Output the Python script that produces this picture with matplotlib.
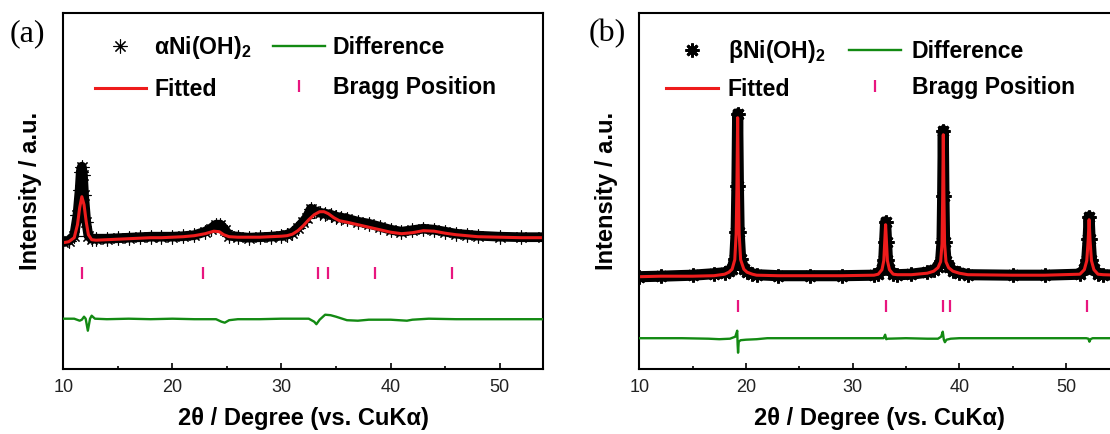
import matplotlib.pyplot as plt

plt.rcParams['font.family'] = ['Liberation Sans', 'DejaVu Sans']
plt.rcParams['mathtext.fontset'] = 'custom'
plt.rcParams['mathtext.rm'] = 'Liberation Sans:bold'
plt.rcParams['mathtext.default'] = 'rm'

# ---- (a) alpha-Ni(OH)2 refinement ----
a_obs_x = [10.0, 10.5, 11.0, 11.3, 11.5, 11.6, 11.7, 11.8, 11.9, 12.1, 12.3, 12.6, 13, 14, 15, 16, 17,
           18, 19, 20, 21, 22, 23, 23.5, 24.0, 24.4, 24.8, 25.2, 26, 27, 28, 29, 30, 30.5, 31, 31.5,
           32.0, 32.3, 32.7, 33.0, 33.5, 34, 34.5, 35, 35.5, 36, 37, 38, 39, 40, 41, 42, 43, 44, 45,
           46, 47, 48, 50, 52, 54]
a_obs_y = [127, 128, 133, 154, 179, 197, 202, 194, 174, 147, 133, 130, 130, 130, 130.5, 131, 131.5,
           132, 132, 132, 132.5, 133.5, 137, 140, 144, 144, 139, 133, 132, 131, 131.5, 132, 133, 134,
           136, 141, 147, 151, 160, 158, 156, 155, 154, 152, 151, 150, 147, 145, 142, 139, 137, 138.5,
           140, 139, 137, 135, 134, 133, 132, 131.5, 131.5]

a_fit_x = [10.0, 10.5, 11.0, 11.3, 11.5, 11.7, 11.9, 12.1, 12.3, 12.6, 13, 14, 15, 16, 17, 18, 19, 20,
           21, 22, 23, 23.8, 24.3, 24.7, 25.2, 26, 27, 28, 29, 30, 30.5, 31, 31.5, 32, 32.5, 33, 33.5,
           33.9, 34.3, 34.8, 35.3, 36, 37, 38, 39, 40, 41, 42, 43, 44, 45, 46, 47, 48, 50, 52, 54]
a_fit_y = [126, 127, 131, 144, 161, 172, 164, 147, 134, 129, 128.5, 129, 129.5, 130, 130.5, 131, 131,
           131.5, 132, 133, 135, 137.5, 137, 134, 132, 131.5, 131.5, 131.5, 132, 132.5, 133, 134.5,
           138, 143, 149, 154, 157, 157, 155, 151, 148, 146.5, 144, 141.5, 139, 136.5, 135, 136, 138,
           137.5, 135.5, 134, 133, 132, 131.5, 131, 131]

a_diff_x = [10, 11, 11.5, 11.7, 11.9, 12.05, 12.25, 12.45, 12.6, 12.9, 14, 16, 18, 20, 22, 24.0, 24.5,
            24.8, 25.2, 26, 28, 30, 32.5, 33.0, 33.2, 33.5, 34.0, 34.5, 35, 36, 37, 38, 40, 41.5, 42,
            43.5, 46, 50, 54]
a_diff_y = [50, 50, 48, 49, 52, 50, 38, 50, 53, 50, 49.5, 50, 49.5, 50, 49.5, 49.5, 47, 46, 48.5,
            49.5, 49.5, 50, 50, 47, 44.5, 49, 54, 53.5, 52, 48.5, 48, 49, 49, 48, 49, 50, 49.5, 49.5,
            49.5]

a_bragg = [11.74, 22.85, 33.34, 34.25, 38.53, 45.63]

# ---- (b) beta-Ni(OH)2 refinement ----
b_fit_x = [10.0, 12, 15, 17, 18.0, 18.4, 18.7, 18.95, 19.08, 19.15, 19.22, 19.29, 19.36, 19.5, 19.8,
           20.1, 20.6, 21.0, 23, 26, 29, 32.0, 32.4, 32.75, 32.92, 33.0, 33.09, 33.18, 33.26, 33.45,
           33.8, 34.2, 35.5, 37.0, 37.6, 38.0, 38.25, 38.38, 38.44, 38.5, 38.56, 38.62, 38.75, 39.0,
           39.4, 40.0, 40.8, 45, 48, 51.3, 51.72, 51.95, 52.08, 52.17, 52.26, 52.39, 52.62, 53.0,
           53.5, 55]
b_fit_y = [92, 92.5, 92.5, 93, 94.5, 96.5, 99.5, 109, 135, 180, 251, 180, 135, 109, 99.5,
           96.5, 94.5, 93.5, 93, 93, 93, 93.5, 94.5, 99, 108, 125, 144, 125, 108, 99,
           94.5, 94, 94, 95.5, 97.5, 101, 107, 125, 170, 234, 170, 125, 107, 101,
           97.5, 95.5, 94, 93.5, 93.5, 94.5, 99, 108, 128, 149, 128, 108, 99, 94.5,
           94, 93.5]
b_obs_x = b_fit_x
b_obs_y = [92, 92.5, 93.5, 95, 96, 97.5, 100, 110, 137, 183, 255, 183, 137, 110, 100,
           97, 95, 94, 93, 93, 93, 93.5, 95, 99.5, 109, 127, 147, 127, 109, 99.5,
           95, 94, 94.5, 96.5, 98.5, 102, 108, 127, 173, 238, 173, 127, 108, 102,
           98, 96, 94, 93.5, 93.5, 94.5, 99.5, 109, 130, 152, 130, 109, 99.5, 95,
           94, 93.5]

b_diff_x = [10, 14, 16.5, 17.5, 18.5, 19.0, 19.12, 19.18, 19.22, 19.26, 19.32, 19.5, 20, 21, 22, 26,
            30, 32.9, 33.05, 33.15, 33.3, 35, 37, 38.0, 38.3, 38.45, 38.55, 38.65, 38.8, 39.2, 40,
            45, 51.9, 52.1, 52.2, 52.3, 52.5, 55]
b_diff_y = [30.5, 30.5, 30, 29.5, 30, 32, 36, 38, 24, 16, 27, 28.5, 29, 29.5, 30.5, 30.5,
            30.5, 30.5, 34, 29.5, 30, 30.5, 30, 30, 32, 37, 29, 26.5, 29, 30, 30.5,
            30.5, 30.5, 30, 27, 29.5, 30.5, 30.5]

b_bragg = [19.22, 33.09, 38.5, 39.12, 52.0]

RED = '#ee1c1c'
GREEN = '#138a13'
PINK = '#e8157f'

W, H = 1110, 434
fig = plt.figure(figsize=(W / 100, H / 100), dpi=100)


def panel(rect, xmax, obs_x, obs_y, fit_x, fit_y, diff_x, diff_y, bragg, bragg_y,
          name, ms, mew, band_lw):
    ax = fig.add_axes(rect)
    ax.plot(obs_x, obs_y, color='black', lw=band_lw, solid_joinstyle='round', zorder=1)
    obs, = ax.plot(obs_x, obs_y, ls='none', marker=(8, 2, 0), ms=ms, mew=mew, color='black',
                   label=name, zorder=1)
    fit, = ax.plot(fit_x, fit_y, color=RED, lw=2.2, label='Fitted', zorder=2)
    diff, = ax.plot(diff_x, diff_y, color=GREEN, lw=1.7, label='Difference', zorder=3)
    brg, = ax.plot(bragg, [bragg_y] * len(bragg), ls='none', marker='|', ms=9, mew=1.6,
                   color=PINK, label='Bragg Position', zorder=3)
    ax.set_xlim(10, xmax)
    ax.set_ylim(0, 356)
    ax.set_yticks([])
    ax.set_xticks([10, 20, 30, 40, 50])
    ax.set_xticks([15, 25, 35, 45], minor=True)
    ax.tick_params(axis='x', which='major', direction='in', length=4.5, width=1.2,
                   labelsize=13, labelcolor='#222222', pad=7.5)
    ax.tick_params(axis='x', which='minor', direction='in', length=2.5, width=1.2)
    for s in ax.spines.values():
        s.set_linewidth(1.5)
    ax.set_xlabel('2θ / Degree (vs. CuKα)', fontsize=17, fontweight='bold', labelpad=8)
    ax.set_ylabel('Intensity / a.u.', fontsize=17, fontweight='bold', labelpad=15)
    return ax, [obs, fit, diff, brg]


ax_a, h_a = panel([63.3 / W, 1 - 368.7 / H, 480 / W, 356 / H], 54,
                  a_obs_x, a_obs_y, a_fit_x, a_fit_y, a_diff_x, a_diff_y, a_bragg, 95.5,
                  'αNi(OH)$_2$', 10, 0.8, 7)
ax_b, h_b = panel([639.3 / W, 1 - 368.7 / H, 480 / W, 356 / H], 55,
                  b_obs_x, b_obs_y, b_fit_x, b_fit_y, b_diff_x, b_diff_y, b_bragg, 62.5,
                  'βNi(OH)$_2$', 10, 2.0, 8)

ax_a.legend(handles=h_a, ncol=2, frameon=False, prop={'weight': 'bold', 'size': 16.6},
            loc='upper left', bbox_to_anchor=(0.065, 0.94), handlelength=2.25,
            handletextpad=0.35, columnspacing=0.9, labelspacing=0.72,
            borderpad=0, borderaxespad=0)
ax_b.legend(handles=h_b, ncol=2, frameon=False, prop={'weight': 'bold', 'size': 16.6},
            loc='upper left', bbox_to_anchor=(0.055, 0.93), handlelength=2.25,
            handletextpad=0.45, columnspacing=1.05, labelspacing=0.6,
            borderpad=0, borderaxespad=0)

fig.text(27 / W, 1 - 34 / H, '(a)', family='Liberation Serif', fontsize=23,
         ha='center', va='center')
fig.text(607 / W, 1 - 34 / H, '(b)', family='Liberation Serif', fontsize=23,
         ha='center', va='center')

fig.savefig('out.png', dpi=100)
